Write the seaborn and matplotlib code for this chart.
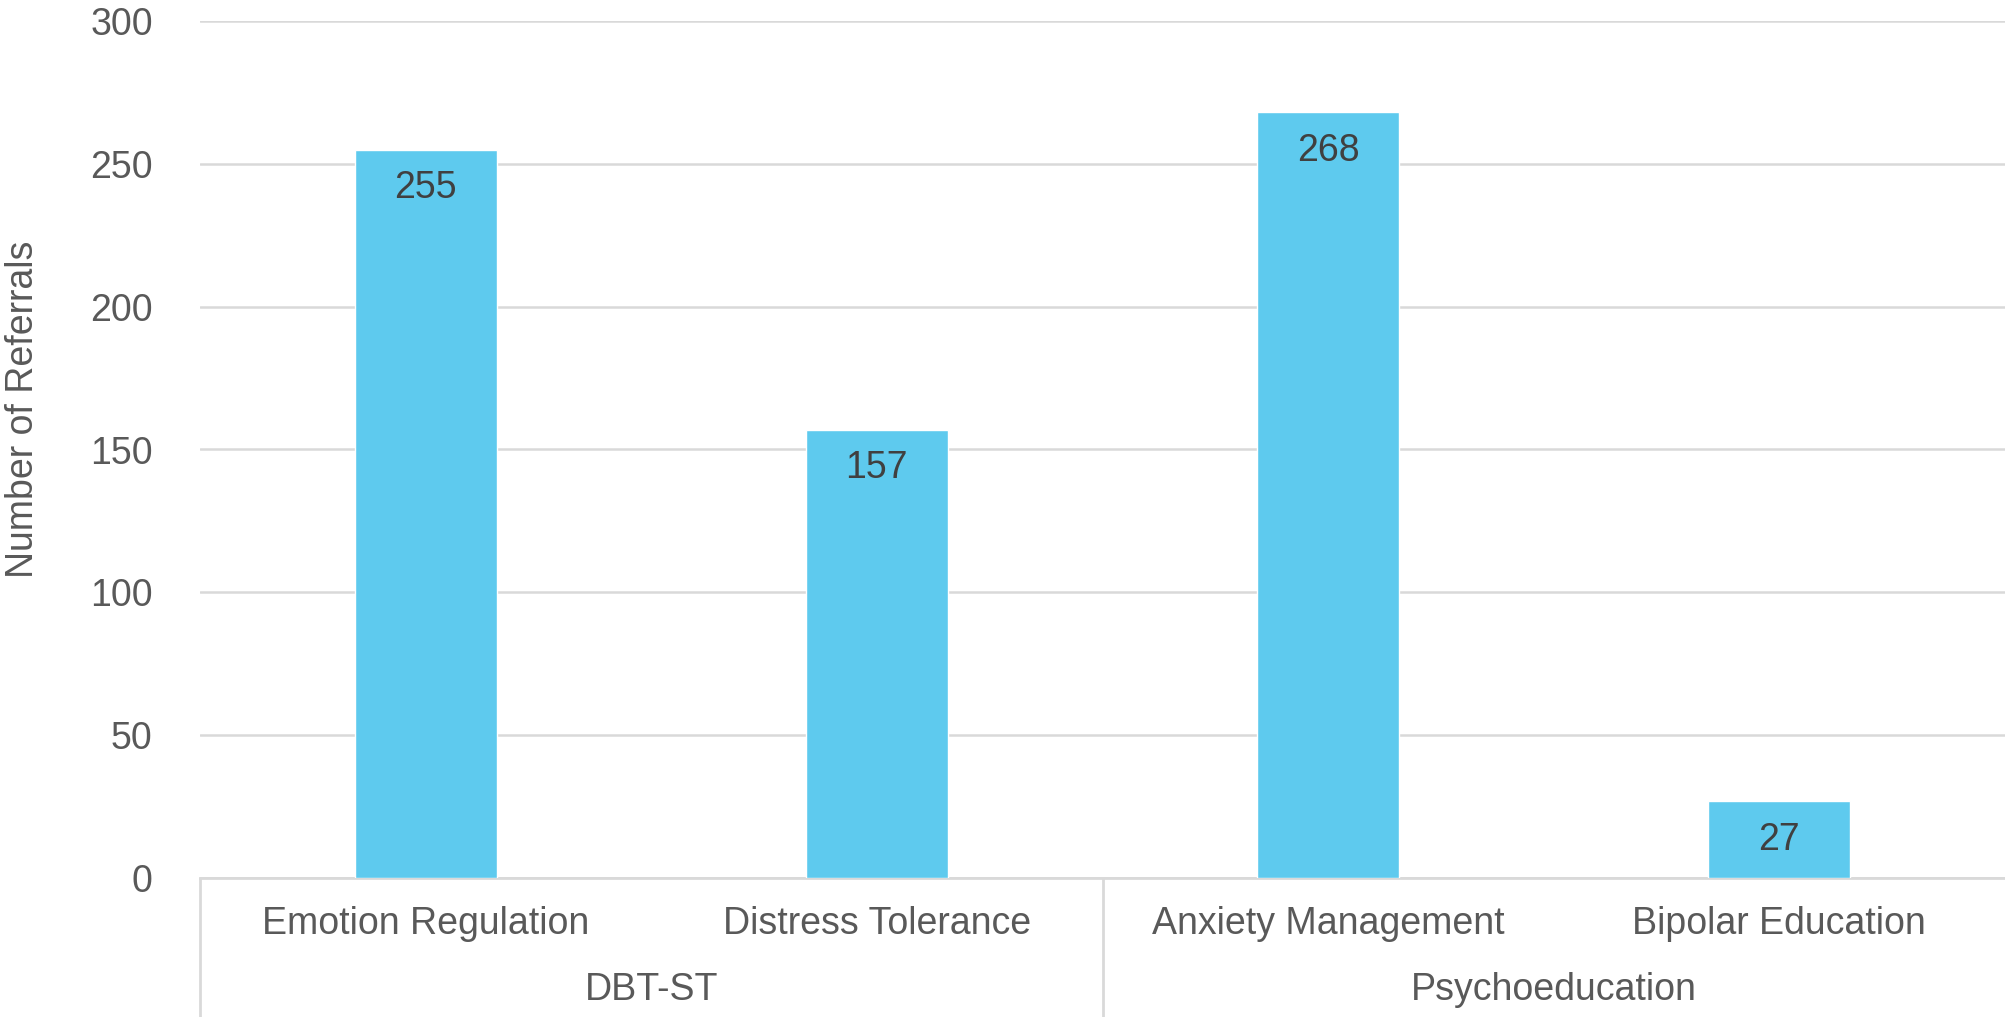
import matplotlib
matplotlib.use('Agg')
import matplotlib.pyplot as plt
import seaborn as sns
from matplotlib import font_manager

# data
programs = ['Emotion Regulation', 'Distress Tolerance', 'Anxiety Management', 'Bipolar Education']
groups = ['DBT-ST', 'Psychoeducation']
group_sizes = [2, 2]
referrals = [255, 157, 268, 27]

sns.set_theme(style='white')
names = {f.name for f in font_manager.fontManager.ttflist}
fam = 'Liberation Sans Narrow' if 'Liberation Sans Narrow' in names else 'Liberation Sans'
plt.rcParams['font.family'] = [fam, 'DejaVu Sans']
fs = 29 if fam == 'Liberation Sans Narrow' else 27

grey = '#595959'
fig = plt.figure(figsize=(20.05, 10.17), dpi=100)
ax = fig.add_axes([200 / 2005, 1 - 878 / 1017, 1 - 200 / 2005, (878 - 21) / 1017])

sns.barplot(x=programs, y=referrals, color='#5ECAEE', saturation=1, width=0.315, ax=ax, zorder=3)

ax.set_xlim(-0.5, len(programs) - 0.5)
ax.set_ylim(0, 300)
ax.set_yticks(range(0, 301, 50))
ax.yaxis.grid(True, color='#D9D9D9', linewidth=1.8, zorder=0)
for s in ['left', 'right', 'top']:
    ax.spines[s].set_visible(False)
ax.spines['bottom'].set_color('#D9D9D9')
ax.spines['bottom'].set_linewidth(2)
ax.tick_params(axis='y', length=0, pad=34, labelsize=fs, labelcolor=grey)
ax.tick_params(axis='x', length=0, pad=20, labelsize=fs, labelcolor=grey)
ax.set_xlabel('')
ax.set_ylabel('')

# value labels inside bars
for i, v in enumerate(referrals):
    ax.annotate(str(v), (i, v), xytext=(0, -15), textcoords='offset points',
                ha='center', va='top', fontsize=fs, color='#404040', zorder=4)

# group labels and separators (left edge and between groups)
start = 0
seps = [-0.5]
for g, n in zip(groups, group_sizes):
    center = start + (n - 1) / 2
    ax.text(center, -0.131, g, transform=ax.get_xaxis_transform(), ha='center', va='center',
            fontsize=fs, color=grey)
    start += n
    if start < len(programs):
        seps.append(start - 0.5)
for x in seps:
    ax.plot([x, x], [0, -0.2], transform=ax.get_xaxis_transform(), color='#D9D9D9',
            linewidth=2, clip_on=False)

fig.text(23 / 2005, 1 - 409 / 1017, 'Number of Referrals', rotation=90, ha='center', va='center',
         fontsize=fs, color=grey)

fig.savefig('out.png', dpi=100)
